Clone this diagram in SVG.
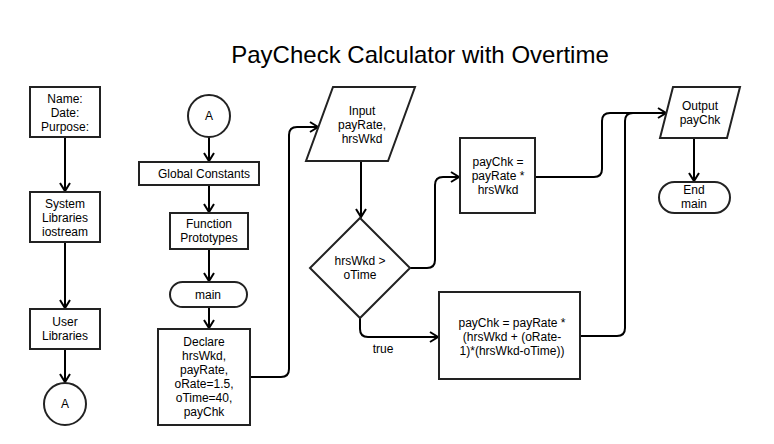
<svg xmlns="http://www.w3.org/2000/svg" width="774" height="444" viewBox="0 0 774 444">
<style>
.s{fill:#fff;stroke:#222;stroke-width:2}
.t{font-family:"Liberation Sans",Arial,sans-serif;font-size:12px;fill:#000;text-anchor:middle}
.c{fill:none;stroke:#000;stroke-width:2}
</style>
<defs>
<marker id="ah" markerWidth="12" markerHeight="12" refX="10" refY="6" orient="auto" markerUnits="userSpaceOnUse">
<path d="M2,1 L10,6 L2,11" fill="none" stroke="#000" stroke-width="2"/>
</marker>
</defs>
<rect width="774" height="444" fill="#fff"/>
<text x="420" y="63" style="font-family:'Liberation Sans',Arial,sans-serif;font-size:24px;text-anchor:middle">PayCheck Calculator with Overtime</text>

<g id="connectors">
<path class="c" d="M65,137 V191" marker-end="url(#ah)"/>
<path class="c" d="M65,242 V308" marker-end="url(#ah)"/>
<path class="c" d="M65,349 V382" marker-end="url(#ah)"/>
<path class="c" d="M209,137 V161" marker-end="url(#ah)"/>
<path class="c" d="M209,185 V212" marker-end="url(#ah)"/>
<path class="c" d="M209,249 V281" marker-end="url(#ah)"/>
<path class="c" d="M209,307 V328" marker-end="url(#ah)"/>
<path class="c" d="M250,377 H281 Q289,377 289,369 V135 Q289,127 297,127 H318" marker-end="url(#ah)"/>
<path class="c" d="M361,161 V217" marker-end="url(#ah)"/>
<path class="c" d="M410,268 H427 Q435,268 435,260 V185 Q435,177 443,177 H459" marker-end="url(#ah)"/>
<path class="c" d="M360,317 V329 Q360,337 368,337 H438" marker-end="url(#ah)"/>
<path class="c" d="M535,177 H594 Q602,177 602,169 V121 Q602,113 610,113 H666" marker-end="url(#ah)"/>
<path class="c" d="M580,336 H617 Q625,336 625,328 V121 Q625,113 633,113 H666"/>
<path class="c" d="M694,138 V181" marker-end="url(#ah)"/>
<text class="t" x="383" y="353">true</text>
</g>

<g id="n-header">
<rect class="s" x="30" y="87" width="70" height="50"/>
<text class="t" x="65" y="103">Name:</text>
<text class="t" x="65" y="117">Date:</text>
<text class="t" x="65" y="131">Purpose:</text>
</g>
<g id="n-syslib">
<rect class="s" x="30" y="192" width="70" height="50"/>
<text class="t" x="65" y="208">System</text>
<text class="t" x="65" y="222">Libraries</text>
<text class="t" x="65" y="236">iostream</text>
</g>
<g id="n-userlib">
<rect class="s" x="30" y="309" width="70" height="40"/>
<text class="t" x="65" y="326">User</text>
<text class="t" x="65" y="340">Libraries</text>
</g>
<g id="n-a1">
<circle class="s" cx="65" cy="404" r="21"/>
<text class="t" x="65" y="408">A</text>
</g>
<g id="n-a2">
<circle class="s" cx="209" cy="116" r="21"/>
<text class="t" x="209" y="120">A</text>
</g>
<g id="n-global">
<rect class="s" x="139" y="162" width="120" height="23"/>
<text class="t" x="204" y="178">Global Constants</text>
</g>
<g id="n-proto">
<rect class="s" x="170" y="213" width="78" height="36"/>
<text class="t" x="209" y="228">Function</text>
<text class="t" x="209" y="242">Prototypes</text>
</g>
<g id="n-main">
<rect class="s" x="170" y="282" width="77" height="25" rx="12.5"/>
<text class="t" x="208" y="299">main</text>
</g>
<g id="n-declare">
<rect class="s" x="158" y="329" width="92" height="96"/>
<text class="t" x="204" y="346">Declare</text>
<text class="t" x="204" y="360">hrsWkd,</text>
<text class="t" x="204" y="374">payRate,</text>
<text class="t" x="204" y="388">oRate=1.5,</text>
<text class="t" x="204" y="402">oTime=40,</text>
<text class="t" x="204" y="416">payChk</text>
</g>
<g id="n-input">
<polygon class="s" points="333,87 415,87 388,161 306,161"/>
<text class="t" x="362" y="115">Input</text>
<text class="t" x="362" y="129">payRate,</text>
<text class="t" x="362" y="143">hrsWkd</text>
</g>
<g id="n-decision">
<polygon class="s" points="360,218 410,268 360,318 310,268"/>
<text class="t" x="360" y="265">hrsWkd &gt;</text>
<text class="t" x="360" y="279">oTime</text>
</g>
<g id="n-pay1">
<rect class="s" x="460" y="138" width="75" height="75"/>
<text class="t" x="498" y="166">payChk =</text>
<text class="t" x="498" y="180">payRate *</text>
<text class="t" x="498" y="194">hrsWkd</text>
</g>
<g id="n-pay2">
<rect class="s" x="439" y="292" width="141" height="87"/>
<text class="t" x="512" y="327">payChk = payRate *</text>
<text class="t" x="512" y="341">(hrsWkd + (oRate-</text>
<text class="t" x="512" y="355">1)*(hrsWkd-oTime))</text>
</g>
<g id="n-output">
<polygon class="s" points="673,87 740,87 727,138 660,138"/>
<text class="t" x="700" y="110">Output</text>
<text class="t" x="700" y="124">payChk</text>
</g>
<g id="n-end">
<rect class="s" x="659" y="182" width="71" height="31" rx="15.5"/>
<text class="t" x="694" y="194">End</text>
<text class="t" x="694" y="208">main</text>
</g>
</svg>
